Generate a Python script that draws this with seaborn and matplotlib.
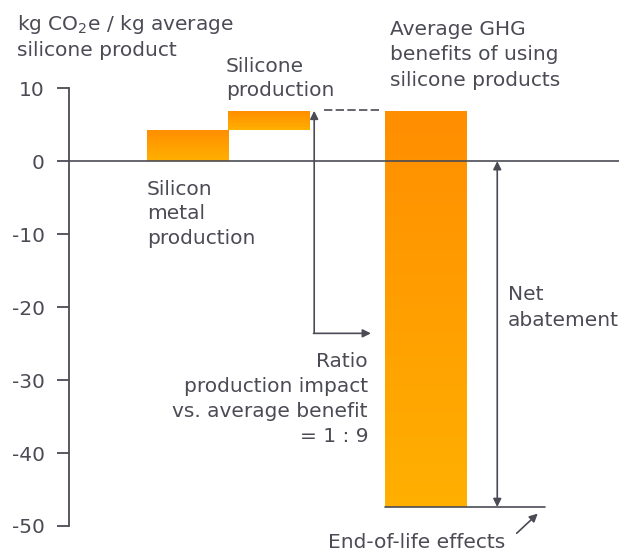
import matplotlib
matplotlib.use("Agg")
import matplotlib.pyplot as plt
import numpy as np
import pandas as pd
import seaborn as sns

# data
steps = ["Silicon metal production", "Silicone production", "Average GHG benefits"]
bar_bottom = [0.0, 4.3, -47.4]
bar_top = [4.3, 6.9, 6.9]
y_ticks = [10, 0, -10, -20, -30, -40, -50]
ratio_text = "Ratio\nproduction impact\nvs. average benefit\n= 1 : 9"

# layout (x in bar-width units)
x_pos = [1.0, 2.0, 3.94]

TXT = "#4b4b55"
LINE = "#4b4b55"

sns.set_style("white")
plt.rcParams["font.family"] = ["DejaVu Sans"]
plt.rcParams["mathtext.default"] = "regular"

fig = plt.figure(figsize=(6.19, 5.52), dpi=100)
ax = fig.add_axes([69 / 619, 0.0207, 1 - 69 / 619, 0.846])

df = pd.DataFrame({"x": x_pos,
                   "h": np.array(bar_top) - np.array(bar_bottom),
                   "step": steps})
sns.barplot(data=df, x="x", y="h", native_scale=True, width=1.0,
            bottom=bar_bottom, color="#ff9a00", errorbar=None,
            linewidth=0, ax=ax)

# vertical orange gradient inside every bar
grad = np.linspace(0, 1, 256).reshape(-1, 1)
cmap = matplotlib.colors.LinearSegmentedColormap.from_list(
    "og", ["#ffb000", "#ff8e00"])
for p in list(ax.patches):
    x0, y0 = p.get_x(), p.get_y()
    w, h = p.get_width(), p.get_height()
    im = ax.imshow(grad, extent=[x0, x0 + w, y0, y0 + h], origin="lower",
                   cmap=cmap, aspect="auto", zorder=2)
    im.set_clip_path(p)

ax.set_xlim(-0.457, 6.333)
ax.set_ylim(-52, 12)
ax.set_xlabel("")
ax.set_ylabel("")
ax.set_xticks([])
ax.set_yticks(y_ticks)
ax.set_yticklabels([str(t) for t in y_ticks])
ax.tick_params(axis="y", left=True, direction="out", length=8.5, width=1.3,
               color=LINE, labelcolor=TXT, labelsize=14.5, pad=9)
for s in ["top", "right", "bottom"]:
    ax.spines[s].set_visible(False)
ax.spines["left"].set_color(LINE)
ax.spines["left"].set_linewidth(1.3)
ax.spines["left"].set_bounds(-50, 10)

# zero line and end-of-life line
ax.axhline(0, color=LINE, lw=1.2, zorder=3)
ax.plot([x_pos[2] - 0.5, 5.42], [bar_bottom[2], bar_bottom[2]],
        color=LINE, lw=1.2, zorder=3)

# ratio arrow
xa = 2.57
ax.annotate("", xy=(xa, bar_top[1]), xytext=(xa, -23.6),
            arrowprops=dict(arrowstyle="-|>", color=LINE, lw=1.2,
                            mutation_scale=12, shrinkA=0, shrinkB=0))
ax.annotate("", xy=(3.27, -23.6), xytext=(xa - 0.008, -23.6),
            arrowprops=dict(arrowstyle="-|>", color=LINE, lw=1.2,
                            mutation_scale=12, shrinkA=0, shrinkB=0))
ax.plot([2.69, 3.40], [7.0, 7.0], color=LINE, lw=1.2,
        dashes=(5, 2, 5, 2), zorder=3)

# net abatement double arrow
xn = 4.83
ax.annotate("", xy=(xn, 0), xytext=(xn, bar_bottom[2]),
            arrowprops=dict(arrowstyle="<|-|>", color=LINE, lw=1.2,
                            mutation_scale=12, shrinkA=0, shrinkB=0))

# end-of-life pointer
ax.annotate("", xy=(5.33, -48.3), xytext=(5.07, -51.0),
            arrowprops=dict(arrowstyle="-|>", color=LINE, lw=1.2,
                            mutation_scale=12, shrinkA=0, shrinkB=0),
            annotation_clip=False)

fs = 14.5
fig.text(17 / 619, 1 - 13 / 552, "kg CO$_2$e / kg average\nsilicone product",
         ha="left", va="top", fontsize=fs, color=TXT, linespacing=1.36)
fig.text(226 / 619, 1 - 57 / 552, "Silicone\nproduction",
         ha="left", va="top", fontsize=fs, color=TXT, linespacing=1.3)
fig.text(390 / 619, 1 - 20 / 552,
         "Average GHG\nbenefits of using\nsilicone products",
         ha="left", va="top", fontsize=fs, color=TXT, linespacing=1.43)
fig.text(147 / 619, 1 - 180 / 552, "Silicon\nmetal\nproduction",
         ha="left", va="top", fontsize=fs, color=TXT, linespacing=1.36)
fig.text(508 / 619, 1 - 285 / 552, "Net\nabatement",
         ha="left", va="top", fontsize=fs, color=TXT, linespacing=1.47)
fig.text(368 / 619, 1 - 352 / 552, ratio_text,
         ha="right", va="top", fontsize=fs, color=TXT, linespacing=1.4,
         multialignment="right")
fig.text(328 / 619, 1 - 543 / 552, "End-of-life effects",
         ha="left", va="center", fontsize=fs, color=TXT)

fig.savefig("out.png", dpi=100)
